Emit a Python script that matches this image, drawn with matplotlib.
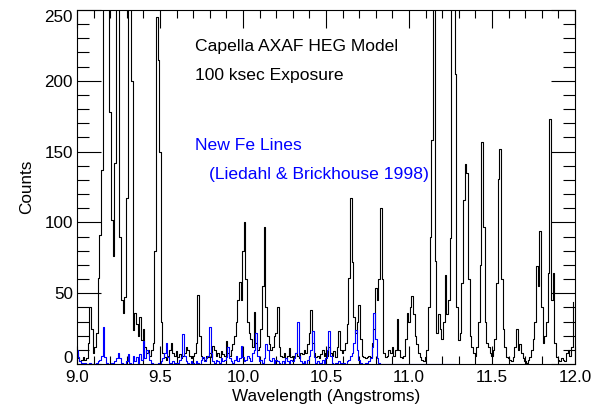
import numpy as np
import matplotlib
matplotlib.use("Agg")
import matplotlib.pyplot as plt
from matplotlib.ticker import MultipleLocator, FormatStrFormatter
from matplotlib.transforms import ScaledTranslation

# HEG model counts, 0.01 A bins starting at 9.00 A (one row = 0.1 A)
black_counts = [
    8, 4, 2, 3, 5, 3, 4, 15, 40, 25,
    8, 12, 22, 61, 91, 137, 450, 650, 500, 300,
    178, 102, 76, 142, 380, 320, 90, 45, 36, 47,
    117, 500, 600, 200, 24, 36, 28, 20, 33, 17,
    25, 12, 8, 10, 6, 10, 15, 80, 245, 215,
    150, 30, 8, 5, 3, 6, 10, 15, 8, 6,
    9, 5, 7, 4, 6, 8, 12, 10, 6, 4,
    6, 8, 15, 49, 20, 6, 4, 3, 6, 5,
    8, 5, 13, 10, 6, 8, 5, 9, 7, 6,
    16, 8, 6, 10, 14, 20, 30, 45, 58, 45,
    80, 100, 60, 30, 22, 18, 12, 37, 15, 10,
    12, 25, 55, 97, 40, 20, 14, 10, 12, 20,
    22, 40, 12, 6, 5, 8, 4, 6, 11, 5,
    6, 5, 8, 6, 4, 8, 7, 10, 8, 14,
    22, 38, 15, 8, 5, 6, 4, 7, 10, 6,
    8, 6, 12, 8, 6, 9, 5, 12, 23, 10,
    8, 10, 15, 28, 61, 117, 72, 33, 22, 30,
    42, 18, 6, 5, 4, 5, 6, 5, 15, 25,
    54, 45, 60, 110, 60, 8, 5, 6, 10, 8,
    12, 6, 10, 32, 10, 5, 4, 6, 18, 36,
    30, 40, 48, 35, 20, 14, 8, 5, 3, 2,
    5, 10, 40, 90, 158, 420, 73, 22, 35, 25,
    18, 30, 63, 35, 45, 89, 300, 500, 205, 40,
    17, 22, 57, 116, 141, 135, 60, 20, 12, 8,
    6, 12, 30, 70, 157, 97, 30, 15, 12, 8,
    6, 10, 18, 57, 131, 152, 60, 25, 12, 5,
    4, 3, 2, 5, 12, 25, 10, 14, 8, 4,
    2, 1, 3, 5, 10, 18, 30, 69, 55, 94,
    40, 15, 20, 30, 64, 173, 45, 64, 15, 5,
    3, 2, 4, 3, 2, 8, 10, 6, 12, 44,
]

# new Fe lines (Liedahl & Brickhouse 1998), same bins, ends at 11.28 A
fe_counts = [
    10, 5, 2, 1, 0, 1, 0, 0, 1, 0,
    0, 0, 1, 2, 3, 6, 26, 5, 1, 0,
    0, 1, 0, 2, 4, 8, 4, 1, 0, 0,
    2, 7, 1, 0, 6, 2, 5, 0, 7, 3,
    16, 4, 10, 8, 3, 1, 0, 0, 0, 1,
    0, 2, 4, 8, 15, 5, 1, 0, 2, 1,
    0, 1, 3, 5, 21, 6, 2, 1, 0, 2,
    1, 0, 2, 1, 0, 3, 5, 2, 4, 6,
    26, 8, 2, 1, 3, 2, 1, 4, 2, 3,
    5, 12, 4, 2, 1, 3, 6, 2, 4, 13,
    5, 2, 3, 6, 4, 2, 8, 10, 22, 6,
    2, 3, 1, 4, 14, 10, 3, 2, 4, 1,
    3, 2, 1, 0, 2, 1, 4, 2, 1, 3,
    2, 4, 8, 30, 6, 2, 1, 2, 0, 3,
    6, 10, 23, 5, 1, 2, 0, 1, 3, 1,
    4, 10, 23, 6, 1, 0, 1, 0, 2, 1,
    0, 1, 0, 2, 3, 6, 8, 15, 24, 10,
    3, 1, 0, 0, 1, 0, 2, 4, 12, 36,
    18, 4, 1, 0, 0, 0, 0, 0, 0, 0,
    0, 0, 0, 0, 0, 0, 0, 0, 0, 0,
    0, 0, 0, 0, 0, 0, 0, 0, 0, 0,
    0, 0, 0, 0, 0, 0, 0, 0, 0, 0,
    0, 0, 0, 0, 0, 0, 0, 0, 0,
]

wave_start = 9.0
bin_width = 0.01

plt.rcParams['font.family'] = ['Liberation Sans', 'DejaVu Sans']
plt.rcParams['font.size'] = 12.3

wave_black = np.round(wave_start + bin_width * np.arange(len(black_counts)), 2)
wave_fe = np.round(wave_start + bin_width * np.arange(len(fe_counts)), 2)

fig = plt.figure(figsize=(6.04, 4.08), dpi=100)
ax = fig.add_axes([77 / 604, 1 - 364 / 408, 498 / 604, 354 / 408])

ax.step(wave_black, black_counts, where='mid', color='black', lw=0.8)
ax.step(wave_fe, fe_counts, where='mid', color='blue', lw=0.8)

ax.set_xlim(9.0, 12.0)
ax.set_ylim(0, 250)
ax.xaxis.set_major_locator(MultipleLocator(0.5))
ax.xaxis.set_minor_locator(MultipleLocator(0.1))
ax.yaxis.set_major_locator(MultipleLocator(50))
ax.yaxis.set_minor_locator(MultipleLocator(10))
ax.xaxis.set_major_formatter(FormatStrFormatter('%.1f'))

ax.tick_params(which='both', direction='in', top=True, right=True, width=0.8)
ax.tick_params(axis='x', which='major', length=13, pad=4)
ax.tick_params(axis='x', which='minor', length=6)
ax.tick_params(axis='y', which='major', length=17.5, pad=3)
ax.tick_params(axis='y', which='minor', length=8.5)
for sp in ax.spines.values():
    sp.set_linewidth(0.8)

ax.set_xlabel('Wavelength (Angstroms)', labelpad=3)
ax.set_ylabel('Counts', labelpad=7)

ax.text(9.71, 224, 'Capella AXAF HEG Model', va='center', color='black', fontsize=12.6)
ax.text(9.71, 204, '100 ksec Exposure', va='center', color='black', fontsize=12.6)
ax.text(9.71, 154, 'New Fe Lines', va='center', color='blue', fontsize=12.6)
ax.text(9.795, 133.5, '(Liedahl & Brickhouse 1998)', va='center', color='blue', fontsize=12.6)

# nudge the end labels of the y axis inside the frame, like the original
fig.canvas.draw()
for tick in ax.yaxis.get_major_ticks():
    if abs(tick.get_loc() - 0) < 1e-6:
        tick.label1.set_transform(tick.label1.get_transform()
                                  + ScaledTranslation(0, 0.07, fig.dpi_scale_trans))
    elif abs(tick.get_loc() - 250) < 1e-6:
        tick.label1.set_transform(tick.label1.get_transform()
                                  + ScaledTranslation(0, -0.06, fig.dpi_scale_trans))

fig.savefig('out.png', dpi=100)
